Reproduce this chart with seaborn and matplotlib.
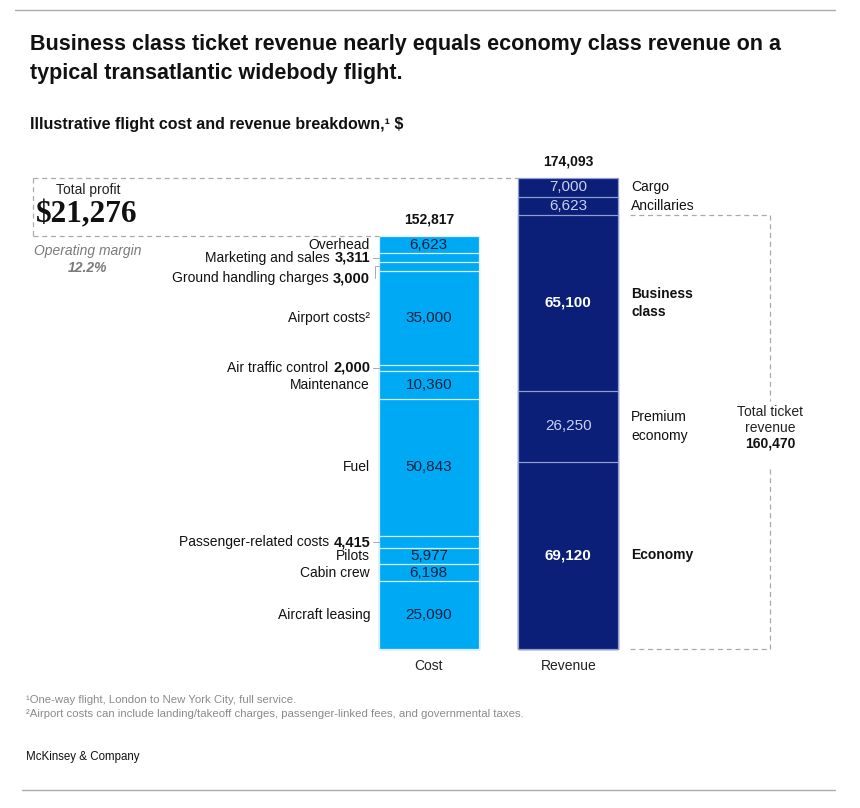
import matplotlib
matplotlib.use("Agg")
import matplotlib.pyplot as plt
from matplotlib.lines import Line2D
import numpy as np
import pandas as pd
import seaborn as sns

# ---- data ----
bars = ["Cost", "Revenue"]

cost_labels = ["Aircraft leasing", "Cabin crew", "Pilots", "Passenger-related costs",
               "Fuel", "Maintenance", "Air traffic control", "Airport costs\u00b2",
               "Ground handling charges", "Marketing and sales", "Overhead"]
cost_values = [25090, 6198, 5977, 4415, 50843, 10360, 2000, 35000, 3000, 3311, 6623]
# small segments carry their value in the side label (bold)
cost_inline = ["Passenger-related costs", "Air traffic control",
               "Ground handling charges", "Marketing and sales"]

revenue_labels = ["Economy", "Premium\neconomy", "Business\nclass", "Ancillaries", "Cargo"]
revenue_values = [69120, 26250, 65100, 6623, 7000]
revenue_bold = ["Economy", "Business\nclass"]
ticket_labels = ["Economy", "Premium\neconomy", "Business\nclass"]

title = ("Business class ticket revenue nearly equals economy class revenue on a\n"
         "typical transatlantic widebody flight.")
subtitle = "Illustrative flight cost and revenue breakdown,\u00b9 $"
footnotes = ["\u00b9One-way flight, London to New York City, full service.",
             "\u00b2Airport costs can include landing/takeoff charges, passenger-linked fees, "
             "and governmental taxes."]
source = "McKinsey & Company"

# ---- style ----
COST_C = "#00A9F4"
REV_C = "#0B1E78"
GRAY = "#AAAAAA"
INK = "#111111"
W, H = 860, 808
X0_PX, UNIT_PX = 428.8, 139.5      # x=0 bar centre in px, px per category step
Y0_PX, USD_PX = 649.0, 0.0027055   # baseline px, px per dollar
BAR_W = 100 / UNIT_PX

sns.set_theme(style="white")
plt.rcParams["font.family"] = ["Liberation Sans", "DejaVu Sans"]
plt.rcParams["text.parse_math"] = False


def px_x(px):
    return (px - X0_PX) / UNIT_PX


def pt(px):
    return px * 0.72


fig = plt.figure(figsize=(W / 100, H / 100), dpi=100)
ax = fig.add_axes([0, 0, 1, 1])

# stacked bars: draw cumulative totals from tallest to shortest
rows = []
for bar, vals, color, edge in [("Cost", cost_values, COST_C, "#D8F1FD"),
                               ("Revenue", revenue_values, REV_C, "#8F9DD0")]:
    tops = np.cumsum(vals)
    for t in tops:
        rows.append({"bar": bar, "top": t, "color": color, "edge": edge})
stack = pd.DataFrame(rows).sort_values("top", ascending=False)
for _, r in stack.iterrows():
    sns.barplot(x=[r["bar"]], y=[r["top"]], order=bars, color=r["color"],
                edgecolor=r["edge"], linewidth=0.9, width=BAR_W, saturation=1,
                errorbar=None, ax=ax)

ax.set_xlim(px_x(0), px_x(W))
ax.set_ylim(-(H - Y0_PX) / USD_PX, Y0_PX / USD_PX)
ax.axis("off")

LBL = 10
VAL = 11
cost_tops = np.cumsum(cost_values)
cost_mids = cost_tops - np.array(cost_values) / 2
left_edge = -BAR_W / 2
label_x = left_edge - 8.8 / UNIT_PX

for lab, val, mid in zip(cost_labels, cost_values, cost_mids):
    if lab in cost_inline:
        dy = -12 if lab.startswith("Ground") else 0
        num = ax.annotate(f"{val:,}", xy=(label_x, mid), xytext=(0, pt(dy)),
                          textcoords="offset points", ha="right", va="center",
                          fontsize=LBL + 0.5, fontweight="bold", color=INK)
        ax.annotate(lab, xy=(0, 0.5), xycoords=num, xytext=(-pt(4.5), 0),
                    textcoords="offset points", ha="right", va="center",
                    fontsize=LBL, color=INK)
        if dy == 0:
            ax.plot([px_x(373), left_edge], [mid, mid], color=GRAY, lw=0.7)
        else:
            ax.plot([px_x(374.5), px_x(374.5), left_edge],
                    [mid + dy / USD_PX, mid, mid], color=GRAY, lw=0.7)
    else:
        ax.text(label_x, mid, lab, ha="right", va="center", fontsize=LBL, color=INK)
        ax.text(0, mid, f"{val:,}", ha="center", va="center", fontsize=VAL,
                color="#0A2240")

cost_total = int(cost_tops[-1])
ax.annotate(f"{cost_total:,}", xy=(0, cost_total), xytext=(0, pt(9)),
            textcoords="offset points", ha="center", va="bottom",
            fontsize=LBL, fontweight="bold", color=INK)

rev_tops = np.cumsum(revenue_values)
rev_mids = rev_tops - np.array(revenue_values) / 2
right_edge = 1 + BAR_W / 2
rlabel_x = right_edge + 12.7 / UNIT_PX
for lab, val, mid in zip(revenue_labels, revenue_values, rev_mids):
    bold = lab in revenue_bold
    ax.text(rlabel_x, mid, lab, ha="left", va="center", fontsize=LBL,
            fontweight="bold" if bold else "normal", color=INK, linespacing=1.4)
    ax.text(1, mid, f"{val:,}", ha="center", va="center", fontsize=VAL,
            fontweight="bold" if bold else "normal",
            color="white" if bold else "#C9D1F0")

rev_total = int(rev_tops[-1])
ax.annotate(f"{rev_total:,}", xy=(1, rev_total), xytext=(0, pt(9)),
            textcoords="offset points", ha="center", va="bottom",
            fontsize=LBL, fontweight="bold", color=INK)

# x category labels
for i, b in enumerate(bars):
    ax.annotate(b, xy=(i, 0), xytext=(0, -pt(10)), textcoords="offset points",
                ha="center", va="top", fontsize=LBL, color="#222222")

# profit box
profit = rev_total - cost_total
margin = profit / rev_total
dash = dict(color=GRAY, lw=0.9, ls=(0, (4, 3)))
bx = px_x(33)
ax.plot([bx, 1 - BAR_W / 2], [rev_total, rev_total], **dash)
ax.plot([bx, bx], [rev_total, cost_total], **dash)
ax.plot([bx, left_edge], [cost_total, cost_total], **dash)
fig.text(88 / W, 1 - 190 / H, "Total profit", ha="center", va="center",
         fontsize=10, color="#222222")
fig.text(36 / W, 1 - 215 / H, f"${profit:,}", ha="left", va="center",
         fontsize=22.5, fontweight="bold", color=INK,
         family=["Liberation Serif", "DejaVu Serif"])
fig.text(88 / W, 1 - 251 / H, "Operating margin", ha="center", va="center",
         fontsize=10, style="italic", color="#7A7A7A")
fig.text(88 / W, 1 - 268 / H, f"{margin:.1%}", ha="center", va="center",
         fontsize=10, style="italic", fontweight="bold", color="#7A7A7A")

# total ticket revenue bracket
ticket_total = sum(v for l, v in zip(revenue_labels, revenue_values) if l in ticket_labels)
tx0, tx1 = px_x(630), px_x(770)
gap = 31 / USD_PX
mid_t = ticket_total / 2
ax.plot([tx0, tx1, tx1], [ticket_total, ticket_total, mid_t + gap], **dash)
ax.plot([tx1, tx1, tx0], [mid_t - gap - 6 / USD_PX, 0, 0], **dash)
ax.annotate("Total ticket\nrevenue", xy=(tx1, mid_t), xytext=(0, pt(12)),
            textcoords="offset points", ha="center", va="center",
            fontsize=LBL, color="#222222", linespacing=1.2)
ax.annotate(f"{ticket_total:,}", xy=(tx1, mid_t), xytext=(0, -pt(12)),
            textcoords="offset points", ha="center", va="center",
            fontsize=LBL, fontweight="bold", color=INK)

# header / footer
fig.text(30 / W, 1 - 59 / H, title, ha="left", va="center", fontsize=15.5,
         fontweight="bold", color=INK, linespacing=1.45)
fig.text(30 / W, 1 - 125 / H, subtitle, ha="left", va="center", fontsize=11.5,
         fontweight="bold", color=INK)
for i, fn in enumerate(footnotes):
    fig.text(26 / W, 1 - (700 + 14 * i) / H, fn, ha="left", va="center",
             fontsize=8.2, color="#8A8A8A")
fig.text(26 / W, 1 - 757 / H, source, ha="left", va="center", fontsize=8.3,
         color=INK)
fig.add_artist(Line2D([15 / W, 835 / W], [1 - 10 / H, 1 - 10 / H], color=GRAY, lw=1))
fig.add_artist(Line2D([22 / W, 835 / W], [1 - 790 / H, 1 - 790 / H], color=GRAY, lw=1))

fig.savefig("out.png", dpi=100)
